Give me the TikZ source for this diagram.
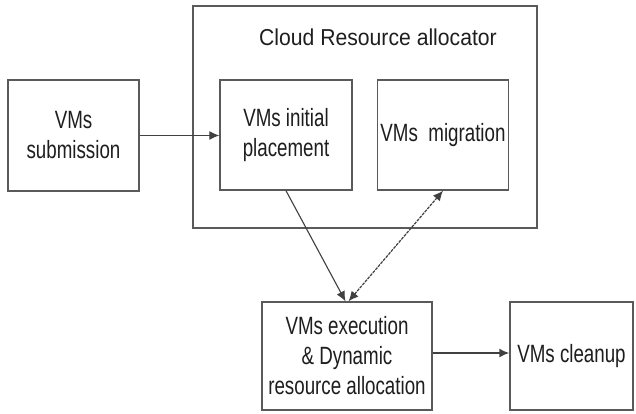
\documentclass[tikz,border=0pt]{standalone}
\usepackage{fontspec}
\setmainfont{Liberation Sans}
\newfontfamily\boxfont{Liberation Sans}[FakeStretch=0.75]
\newfontfamily\titlefont{Liberation Sans}[FakeStretch=0.92]
\usetikzlibrary{arrows.meta}
\definecolor{edgegray}{HTML}{5A5A5A}
\definecolor{inkc}{HTML}{1E1E1E}
\begin{document}
\begin{tikzpicture}[x=1pt,y=-1pt,
  blk/.style={draw=edgegray, line width=1.4pt, inner sep=0pt, align=center,
    text=inkc, font=\boxfont\fontsize{25}{30}\selectfont},
  conn/.style={draw=inkc!85, line width=1.3pt, -{Latex[length=10pt,width=9pt]}},
  dconn/.style={draw=inkc!85, line width=1.2pt, dash pattern=on 3pt off 1pt,
    {Latex[length=10pt,width=9pt]}-{Latex[length=10pt,width=9pt]}}]
\useasboundingbox (0,0) rectangle (636,413);
\fill[white] (0,0) rectangle (636,413);
\node[blk, minimum width=344pt, minimum height=222pt] (outer) at (365,117) {};
\node[text=inkc, font=\titlefont\fontsize{23}{28}\selectfont] (title) at (378,37) {Cloud Resource allocator};
\node[blk, minimum width=131pt, minimum height=111pt] (sub) at (73.5,135.5) {VMs\\submission};
\node[blk, minimum width=132pt, minimum height=110pt] (place) at (286,135) {VMs initial\\placement};
\node[blk, minimum width=131pt, minimum height=110pt] (mig) at (443,135) {VMs\ \ migration};
\node[blk, minimum width=170pt, minimum height=108pt] (exec) at (347,356) {VMs execution\\\&~Dynamic\\resource allocation};
\node[blk, minimum width=123pt, minimum height=108pt] (clean) at (571.5,356) {VMs cleanup};
\draw[conn] (sub.east) -- (sub.east -| place.west);
\draw[conn, line width=1.1pt] (place.south) -- ([xshift=-1.5pt]exec.north);
\draw[dconn] ([xshift=1.5pt]exec.north) -- (mig.south);
\draw[conn, line width=1.6pt] ([yshift=3pt]exec.east) -- ([yshift=3pt]clean.west);
\end{tikzpicture}
\end{document}
